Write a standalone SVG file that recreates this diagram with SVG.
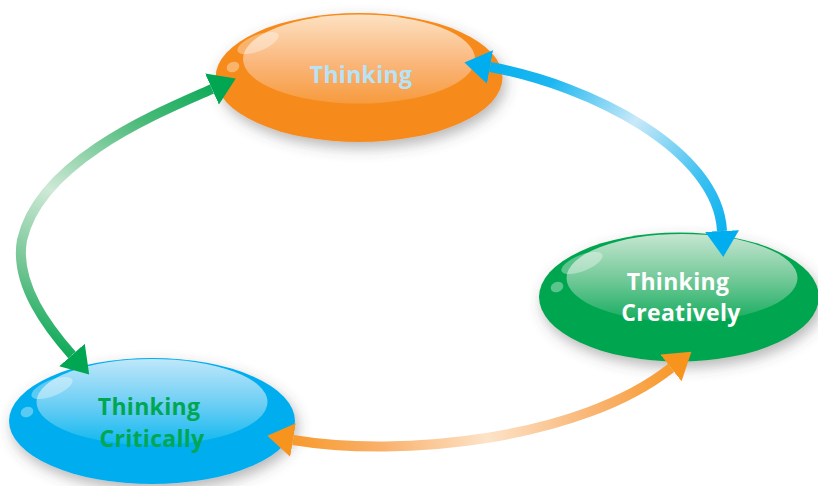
<svg xmlns="http://www.w3.org/2000/svg" width="818" height="486" viewBox="0 0 818 486">
  <defs>
    <style>
      .label { font-family: "Open Sans", "Liberation Sans", sans-serif; font-weight: 700; font-size: 23px; text-anchor: middle; letter-spacing: 0.3px; }
      .shaft { fill: none; stroke-width: 10; stroke-linecap: butt; }
      .gloss { fill: #ffffff; opacity: 0.35; }
    </style>
    <filter id="shadow" x="-20%" y="-30%" width="140%" height="170%">
      <feDropShadow dx="3" dy="6" stdDeviation="7" flood-color="#4a4a4a" flood-opacity="0.4"/>
    </filter>

    <!-- inner glossy highlights -->
    <linearGradient id="innerOrange" x1="0" y1="0" x2="0" y2="1">
      <stop offset="0" stop-color="#fde1c2"/>
      <stop offset="0.55" stop-color="#fab67a"/>
      <stop offset="1" stop-color="#f79b3e"/>
    </linearGradient>
    <linearGradient id="innerGreen" x1="0" y1="0" x2="0" y2="1">
      <stop offset="0" stop-color="#c6e6d1"/>
      <stop offset="0.55" stop-color="#6cc794"/>
      <stop offset="1" stop-color="#14ac5e"/>
    </linearGradient>
    <linearGradient id="innerBlue" x1="0" y1="0" x2="0" y2="1">
      <stop offset="0" stop-color="#bfe7fa"/>
      <stop offset="0.55" stop-color="#68cdf4"/>
      <stop offset="1" stop-color="#0fb8f0"/>
    </linearGradient>

    <!-- connector gradients: solid at the ends, pale in the middle -->
    <linearGradient id="gradGreen" gradientUnits="userSpaceOnUse" x1="235" y1="78" x2="88" y2="375">
      <stop offset="0" stop-color="#00a651"/>
      <stop offset="0.25" stop-color="#4dbb7b"/>
      <stop offset="0.55" stop-color="#cfe9d7"/>
      <stop offset="0.8" stop-color="#6fc491"/>
      <stop offset="1" stop-color="#00a651"/>
    </linearGradient>
    <linearGradient id="gradBlue" gradientUnits="userSpaceOnUse" x1="465" y1="63" x2="723" y2="257">
      <stop offset="0" stop-color="#00aeef"/>
      <stop offset="0.25" stop-color="#1cb7f0"/>
      <stop offset="0.53" stop-color="#c9e9f8"/>
      <stop offset="0.8" stop-color="#3bc0f1"/>
      <stop offset="1" stop-color="#00aeef"/>
    </linearGradient>
    <linearGradient id="gradOrange" gradientUnits="userSpaceOnUse" x1="268" y1="433" x2="687" y2="347">
      <stop offset="0" stop-color="#f7941d"/>
      <stop offset="0.25" stop-color="#f9b06a"/>
      <stop offset="0.5" stop-color="#fde3c8"/>
      <stop offset="0.75" stop-color="#f9b574"/>
      <stop offset="1" stop-color="#f7941d"/>
    </linearGradient>

    <marker id="headGreen" viewBox="0 0 26 34" refX="0" refY="17" markerWidth="26" markerHeight="34" markerUnits="userSpaceOnUse" orient="auto-start-reverse">
      <path d="M0,0 L26,17 L0,34 Z" fill="#00a651"/>
    </marker>
    <marker id="headBlue" viewBox="0 0 26 34" refX="0" refY="17" markerWidth="26" markerHeight="34" markerUnits="userSpaceOnUse" orient="auto-start-reverse">
      <path d="M0,0 L26,17 L0,34 Z" fill="#00aeef"/>
    </marker>
    <marker id="headOrange" viewBox="0 0 26 34" refX="0" refY="17" markerWidth="26" markerHeight="34" markerUnits="userSpaceOnUse" orient="auto-start-reverse">
      <path d="M0,0 L26,17 L0,34 Z" fill="#f7941d"/>
    </marker>
  </defs>

  <rect width="818" height="486" fill="#ffffff"/>

  <g id="node-thinking">
    <ellipse cx="359" cy="77.5" rx="143.5" ry="64.5" fill="#f68b1f" filter="url(#shadow)"/>
    <ellipse cx="359" cy="59" rx="116" ry="44.5" fill="url(#innerOrange)"/>
    <ellipse class="gloss" cx="258" cy="43" rx="22" ry="8" transform="rotate(-22 258 43)"/>
    <ellipse class="gloss" cx="233" cy="67" rx="6.5" ry="5" transform="rotate(-20 233 67)"/>
    <text class="label" x="361" y="83" fill="#b7e3f8">Thinking</text>
  </g>

  <g id="node-creatively">
    <ellipse cx="679" cy="297" rx="140" ry="64.5" fill="#00a54f" filter="url(#shadow)"/>
    <ellipse cx="682" cy="278" rx="115.5" ry="44" fill="url(#innerGreen)"/>
    <ellipse class="gloss" cx="582" cy="263" rx="22" ry="8" transform="rotate(-22 582 263)"/>
    <ellipse class="gloss" cx="557" cy="287" rx="6.5" ry="5" transform="rotate(-20 557 287)"/>
    <text class="label" x="678" y="290" fill="#ffffff">Thinking</text>
    <text class="label" x="681" y="321" fill="#ffffff">Creatively</text>
  </g>

  <g id="node-critically">
    <ellipse cx="152" cy="421" rx="143" ry="63" fill="#00aeef" filter="url(#shadow)"/>
    <ellipse cx="152" cy="402" rx="115.5" ry="43" fill="url(#innerBlue)"/>
    <ellipse class="gloss" cx="52" cy="388" rx="22" ry="8" transform="rotate(-22 52 388)"/>
    <ellipse class="gloss" cx="27" cy="412" rx="6.5" ry="5" transform="rotate(-20 27 412)"/>
    <text class="label" x="149" y="415" fill="#00a651">Thinking</text>
    <text class="label" x="152" y="447" fill="#00a651">Critically</text>
  </g>

  <g id="connectors">
    <path class="shaft" stroke="url(#gradGreen)" d="M212,89 C160,112 40,160 22,240 C14,285 50,330 72,355" marker-start="url(#headGreen)" marker-end="url(#headGreen)"/>
    <path class="shaft" stroke="url(#gradBlue)" d="M490,67 C590,85 718,150 722,231" marker-start="url(#headBlue)" marker-end="url(#headBlue)"/>
    <path class="shaft" stroke="url(#gradOrange)" d="M293,440 C400,458 580,440 671,368" marker-start="url(#headOrange)" marker-end="url(#headOrange)"/>
  </g>
</svg>
